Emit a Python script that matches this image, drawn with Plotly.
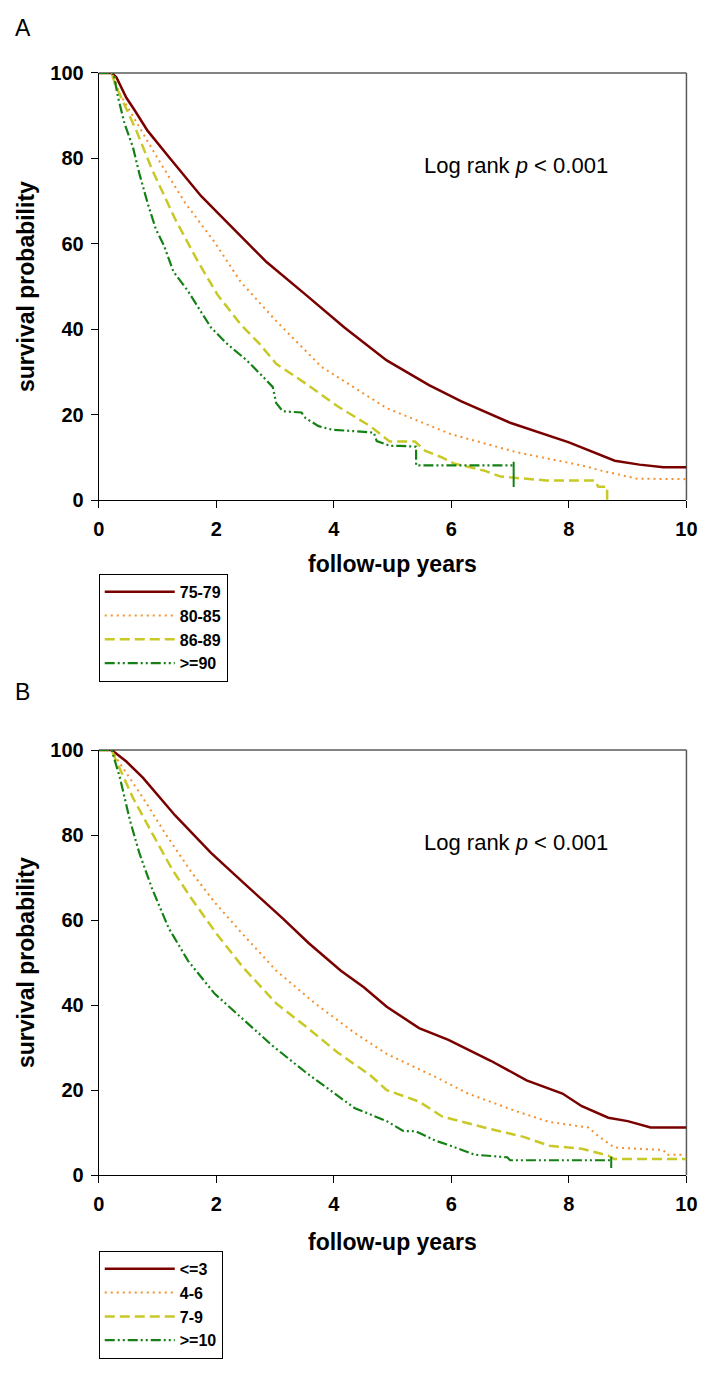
import plotly.graph_objects as go

# ---------------- Data ----------------
# Panel A: age groups
a_names = ["75-79", "80-85", "86-89", ">=90"]
a_t1 = [0, 0.22, 0.30, 0.47, 0.60, 0.83, 1.19, 1.74, 2.13, 2.85, 3.52, 4.18, 4.90, 5.62, 6.17, 7.0, 8.0, 8.78, 9.2, 9.61, 10]
a_s1 = [100, 100, 99, 94.2, 91.5, 86.5, 80.4, 71.2, 65.8, 55.8, 48.1, 40.4, 32.7, 26.9, 23.1, 18.1, 13.5, 9.2, 8.3, 7.7, 7.7]
a_t2 = [0, 0.25, 0.33, 0.75, 1.02, 1.47, 1.97, 2.41, 3.02, 3.79, 4.90, 6.0, 7.11, 8.22, 8.55, 9.16, 10]
a_s2 = [100, 100, 95.8, 85.8, 79.6, 69.6, 60.4, 51.2, 41.9, 31.2, 21.5, 15.4, 11.2, 8.1, 6.9, 5.0, 4.9]
a_t3 = [0, 0.22, 0.28, 0.64, 0.91, 1.30, 1.69, 2.02, 2.41, 2.74, 3.02, 3.52, 4.07, 4.62, 4.95, 5.38, 5.56, 5.84,
        6.06, 6.56, 6.84, 7.61, 8.44, 8.50, 8.65, 8.65]
a_s3 = [100, 100, 97.3, 86.5, 77.3, 65.8, 55.8, 48.1, 41.2, 36.5, 31.9, 27.3, 21.9, 17.3, 13.7, 13.7, 11.5, 10.0,
        8.5, 6.9, 5.5, 4.6, 4.6, 3.1, 3.1, 0]
a_t4 = [0, 0.25, 0.33, 0.44, 0.58, 0.69, 0.83, 0.97, 1.11, 1.27, 1.52, 1.74, 1.91, 2.19, 2.52, 2.80, 2.96, 3.02,
        3.13, 3.45, 3.52, 3.74, 3.96, 4.68, 4.73, 4.96, 5.12, 5.40, 5.40, 7.06]
a_s4 = [100, 100, 94.2, 88.1, 82.7, 76.5, 69.6, 63.5, 59.6, 53.5, 48.9, 44.2, 40.4, 36.5, 32.7, 28.8, 26.5, 22.7,
        20.8, 20.5, 19.2, 17.3, 16.5, 15.8, 13.8, 12.7, 12.7, 12.5, 8.1, 8.1]
a_censor_t = [7.06]
a_censor_s = [6.0]

# Panel B: groups
b_names = ["<=3", "4-6", "7-9", ">=10"]
b_t1 = [0, 0.22, 0.47, 0.75, 1.30, 1.91, 2.46, 3.13, 3.57, 4.12, 4.51, 4.90, 5.45, 5.95, 6.67, 7.28, 7.89, 8.22,
        8.67, 9.0, 9.39, 10]
b_s1 = [100, 100, 97.3, 93.5, 84.6, 75.8, 68.8, 60.4, 54.6, 48.1, 44.2, 39.6, 34.6, 31.8, 26.9, 22.3, 19.2, 16.2,
        13.5, 12.7, 11.2, 11.2]
b_t2 = [0, 0.22, 0.30, 0.75, 1.13, 1.58, 1.97, 2.41, 3.02, 3.68, 4.35, 4.90, 5.73, 6.28, 7.11, 7.67, 8.33, 8.50,
        8.77, 9.61, 9.66, 10]
b_s2 = [100, 100, 98.1, 88.8, 80.4, 71.2, 64.2, 57.3, 48.1, 40.4, 33.5, 28.5, 23.1, 19.2, 15.0, 12.5, 11.2, 9.2,
        6.5, 5.9, 4.8, 4.8]
b_t3 = [0, 0.22, 0.28, 0.58, 0.91, 1.25, 1.58, 2.02, 2.46, 3.02, 3.52, 4.07, 4.62, 4.90, 5.45, 5.84, 6.56, 7.23,
        7.67, 8.22, 8.67, 8.77, 10]
b_s3 = [100, 100, 98, 88.8, 80.4, 71.9, 65.0, 56.5, 48.8, 40.4, 35.0, 28.8, 23.5, 20.0, 17.3, 13.8, 11.2, 9.0,
        6.9, 6.2, 4.6, 3.8, 3.8]
b_t4 = [0, 0.22, 0.36, 0.53, 0.69, 0.91, 1.19, 1.52, 1.97, 2.41, 2.96, 3.52, 3.90, 4.35, 4.90, 5.18, 5.40, 5.73,
        6.01, 6.40, 6.95, 7.0, 8.72]
b_s4 = [100, 100, 93.5, 83.5, 75.8, 67.3, 58.1, 50.4, 42.7, 37.3, 30.4, 24.2, 20.4, 15.8, 12.7, 10.4, 10.3, 8.1,
        6.8, 4.8, 4.2, 3.5, 3.5]
b_censor_t = [8.72]
b_censor_s = [3.0]

x_ticks = [0, 2, 4, 6, 8, 10]
y_ticks = [0, 20, 40, 60, 80, 100]

# ---------------- Styles ----------------
FONT = "Liberation Sans, Arial, sans-serif"
colors = ["#7a0000", "#f5902c", "#c8c826", "#158015"]
dashes = ["solid", "2px,4px", "10px,5px", "10px,3px,2px,3px,2px,3px"]
widths = [2.5, 2, 2.5, 2.2]

W, H = 716, 1379
px_l, px_r = 95, 697
A_top, A_bot = 63, 497
B_top, B_bot = 751, 1183

fig = go.Figure()

panelA = [(a_t1, a_s1), (a_t2, a_s2), (a_t3, a_s3), (a_t4, a_s4)]
panelB = [(b_t1, b_s1), (b_t2, b_s2), (b_t3, b_s3), (b_t4, b_s4)]

for i, (t, s) in enumerate(panelA):
    fig.add_trace(go.Scatter(x=t, y=s, mode="lines", name=a_names[i],
                             line=dict(color=colors[i], dash=dashes[i], width=widths[i]),
                             xaxis="x", yaxis="y", legend="legend"))
fig.add_trace(go.Scatter(x=a_censor_t, y=a_censor_s, mode="markers", showlegend=False,
                         marker=dict(symbol="line-ns", size=18, line=dict(color=colors[3], width=2)),
                         xaxis="x", yaxis="y"))

for i, (t, s) in enumerate(panelB):
    fig.add_trace(go.Scatter(x=t, y=s, mode="lines", name=b_names[i],
                             line=dict(color=colors[i], dash=dashes[i], width=widths[i]),
                             xaxis="x2", yaxis="y2", legend="legend2"))
fig.add_trace(go.Scatter(x=b_censor_t, y=b_censor_s, mode="markers", showlegend=False,
                         marker=dict(symbol="line-ns", size=8, line=dict(color=colors[3], width=2)),
                         xaxis="x2", yaxis="y2"))

def xax(anchor):
    return dict(domain=[px_l / W, px_r / W], anchor=anchor, range=[0, 10], tickvals=x_ticks,
                ticks="outside", ticklen=7, tickwidth=1, tickcolor="black",
                showline=True, linecolor="black", linewidth=1, showgrid=False, zeroline=False,
                tickfont=dict(family=FONT, size=20, color="black", weight="bold"),
                ticklabelstandoff=4, fixedrange=True)

def yax(anchor, top, bot):
    return dict(domain=[1 - bot / H, 1 - top / H], anchor=anchor, range=[0, 100], tickvals=y_ticks,
                ticks="outside", ticklen=7, tickwidth=1, tickcolor="black",
                showline=True, linecolor="black", linewidth=1, showgrid=False, zeroline=False,
                tickfont=dict(family=FONT, size=20, color="black", weight="bold"),
                ticklabelstandoff=3, fixedrange=True)

legend_common = dict(xanchor="left", yanchor="top", bordercolor="black", borderwidth=1,
                     bgcolor="white", font=dict(family=FONT, size=16, color="black", weight="bold"),
                     itemwidth=70, tracegroupgap=0, orientation="v")

fig.update_layout(
    width=W, height=H,
    margin=dict(l=0, r=0, t=0, b=0),
    paper_bgcolor="white", plot_bgcolor="white",
    xaxis=xax("y"), yaxis=yax("x", A_top, A_bot),
    xaxis2=xax("y2"), yaxis2=yax("x2", B_top, B_bot),
    legend=dict(x=px_l / W, y=1 - 572 / H, **legend_common),
    legend2=dict(x=px_l / W, y=1 - 1260 / H, **legend_common),
    showlegend=True,
)

# frame (top and right edges, gray)
for xr, yr in [("x domain", "y domain"), ("x2 domain", "y2 domain")]:
    fig.add_shape(type="line", xref=xr, yref=yr, x0=0, x1=1, y0=1, y1=1,
                  line=dict(color="#5a5a5a", width=1.5), layer="below")
    fig.add_shape(type="line", xref=xr, yref=yr, x0=1, x1=1, y0=0, y1=1,
                  line=dict(color="#5a5a5a", width=1.5), layer="below")

def ann(text, x, y, size, bold=False, angle=0, xanchor="center"):
    fig.add_annotation(text=text, x=x / W, y=1 - y / H, xref="paper", yref="paper",
                       showarrow=False, textangle=angle, xanchor=xanchor, yanchor="middle",
                       font=dict(family=FONT, size=size, color="black",
                                 weight="bold" if bold else "normal"))

# panel letters
ann("A", 17, 17, 23)
ann("B", 17, 692, 23)
# axis titles
ann("survival probability", 20, (A_top + A_bot) / 2, 23, bold=True, angle=-90)
ann("survival probability", 20, (B_top + B_bot) / 2, 23, bold=True, angle=-90)
ann("follow-up years", (px_l + px_r) / 2, 562, 23, bold=True)
ann("follow-up years", (px_l + px_r) / 2, 1251, 23, bold=True)
# log rank
ann("Log rank <i>p</i> &lt; 0.001", 426, 157, 22, xanchor="left")
ann("Log rank <i>p</i> &lt; 0.001", 426, 845, 22, xanchor="left")

fig.write_html("out.html", config={"displayModeBar": False},
               post_script="document.body.style.margin='0';document.body.style.overflow='hidden';")
